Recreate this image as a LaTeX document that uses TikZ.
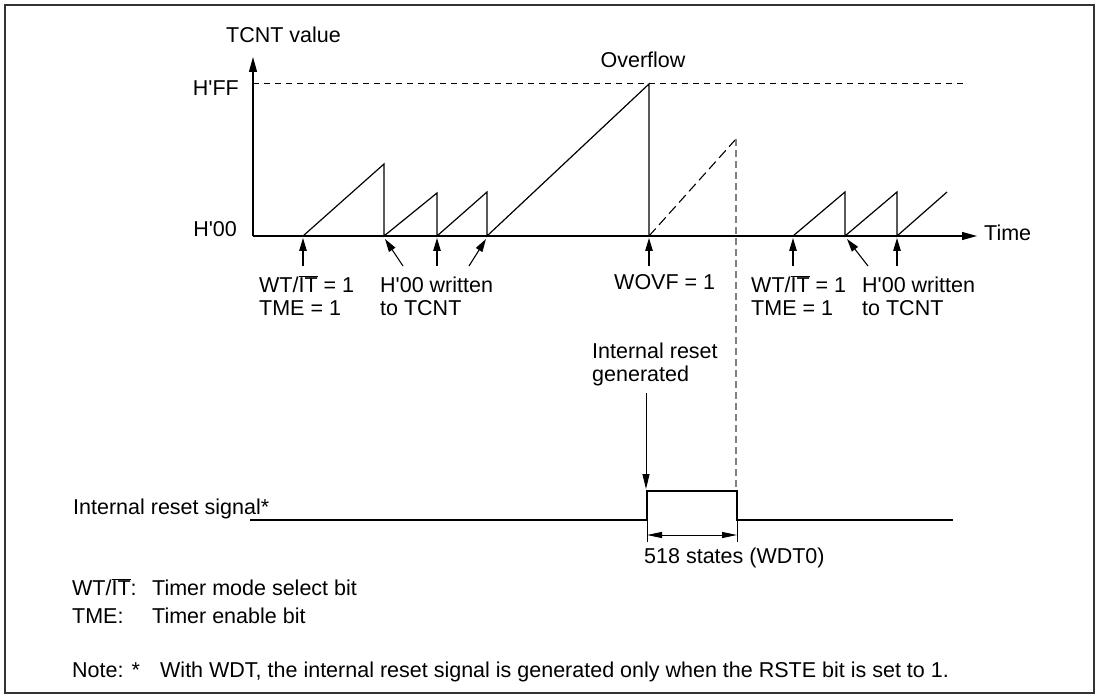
\documentclass[tikz,border=0pt]{standalone}
\usepackage{fontspec}
\setmainfont{Liberation Sans}
\usetikzlibrary{arrows.meta}
\newcommand\nIT{$\overline{\hbox{IT}}$}
\newcommand\apo{\textquotesingle}
\begin{document}
\begin{tikzpicture}[x=1pt,y=-1pt,
  txt/.style={inner sep=0pt,font=\fontsize{21.5}{24}\selectfont},
  wave/.style={line width=1.2pt,line join=miter},
  tip/.style={-{Triangle[length=13pt,width=7.5pt]},line width=1.1pt},
  bigtip/.style={-{Triangle[length=15pt,width=8pt]},line width=1.2pt}]
\useasboundingbox (0,0) rectangle (1098,695);
\draw[line width=1.5pt,black!80] (5,5) rectangle (1094,693);

% axes
\coordinate (O) at (253,236);
\coordinate (Ytop) at (253,57);
\coordinate (Xend) at (977,236);
\draw[bigtip] (O) -- (Ytop);
\draw[bigtip] (O) -- (Xend);
\draw[line width=1pt,dash pattern=on 6pt off 5pt] (253,84) -- (967,84);

\node[txt,anchor=base west] (tcnt) at (226,43) {TCNT value};
\node[txt,anchor=base east] (hff) at (239,96) {H\apo FF};
\node[txt,anchor=base east] (h00) at (237,237) {H\apo 00};
\node[txt,anchor=base] (ovf) at (643,68) {Overflow};
\node[txt,anchor=base west] (time) at (984,241) {Time};

% sawtooth
\coordinate (s1) at (303,236);
\coordinate (s2) at (384,236);
\coordinate (s3) at (437,236);
\coordinate (s4) at (487,236);
\coordinate (s5) at (649,236);
\coordinate (r1) at (793,236);
\coordinate (r2) at (845,236);
\coordinate (r3) at (897,236);
\draw[wave] (s1) -- (384,164) -- (s2) -- (437,193) -- (s3) -- (487,192) -- (s4) -- (649,84) -- (s5);
\draw[wave] (r1) -- (845,192) -- (r2) -- (897,192) -- (r3) -- (947,192);
\draw[line width=1.1pt,dash pattern=on 10pt off 5pt] (s5) -- (736,139);
\draw[line width=1.1pt,gray,dash pattern=on 7pt off 4pt] (736,139) -- (736,490);

% arrows to axis
\coordinate (a1) at (303,266);
\coordinate (a2) at (403,266);
\coordinate (a3) at (437,266);
\coordinate (a4) at (469,266);
\coordinate (a5) at (649,266);
\coordinate (b1) at (793,266);
\coordinate (b2) at (868,266);
\coordinate (b3) at (897,266);
\draw[tip] (a1) -- (303,238);
\draw[tip] (a2) -- (385,239);
\draw[tip] (a3) -- (437,238);
\draw[tip] (a4) -- (486,239);
\draw[tip] (a5) -- (649,238);
\draw[tip] (b1) -- (793,238);
\draw[tip] (b2) -- (847,239);
\draw[tip] (b3) -- (897,238);

\node[txt,anchor=base west] (l1a) at (259,292) {WT/\nIT{} = 1};
\node[txt,anchor=base west] (l1b) at (259,315) {TME = 1};
\node[txt,anchor=base west] (l2a) at (380,292) {H\apo 00 written};
\node[txt,anchor=base west] (l2b) at (380,315) {to TCNT};
\node[txt,anchor=base west] (l3) at (614,290) {WOVF = 1};
\node[txt,anchor=base west] (l4a) at (751,292) {WT/\nIT{} = 1};
\node[txt,anchor=base west] (l4b) at (751,315) {TME = 1};
\node[txt,anchor=base west] (l5a) at (862,292) {H\apo 00 written};
\node[txt,anchor=base west] (l5b) at (862,315) {to TCNT};

% reset signal
\node[txt,anchor=base west] (irg1) at (592,358) {Internal reset};
\node[txt,anchor=base west] (irg2) at (592,381) {generated};
\coordinate (ra) at (646,393);
\coordinate (rb) at (646,489);
\draw[-{Triangle[length=15pt,width=7pt]},line width=1pt] (ra) -- (rb);

\node[txt,anchor=base west] (irs) at (73,514) {Internal reset signal*};
\coordinate (p0) at (250,520);
\coordinate (p1) at (647,520);
\coordinate (p2) at (647,491);
\coordinate (p3) at (737,491);
\coordinate (p4) at (737,520);
\coordinate (p5) at (953,520);
\draw[wave] (p0) -- (p1) -- (p2) -- (p3) -- (p4) -- (p5);
\draw[line width=0.8pt] (p1) -- (647,542);
\draw[line width=0.8pt] (p4) -- (737,542);
\coordinate (d1) at (647,535);
\coordinate (d2) at (737,535);
\draw[{Triangle[length=15pt,width=6pt]}-{Triangle[length=15pt,width=6pt]},line width=1pt] (d1) -- (d2);
\node[txt,anchor=base west] (states) at (644,563) {518 states (WDT0)};

% legend
\node[txt,anchor=base west] (lg1) at (72,595) {WT/\nIT:};
\node[txt,anchor=base west] (lg1t) at (152,595) {Timer mode select bit};
\node[txt,anchor=base west] (lg2) at (72,623) {TME:};
\node[txt,anchor=base west] (lg2t) at (152,623) {Timer enable bit};
\node[txt,anchor=base west] (note) at (72,677) {Note: *};
\node[txt,anchor=base west] (notet) at (160,677) {With WDT, the internal reset signal is generated only when the RSTE bit is set to 1.};
\end{tikzpicture}
\end{document}
